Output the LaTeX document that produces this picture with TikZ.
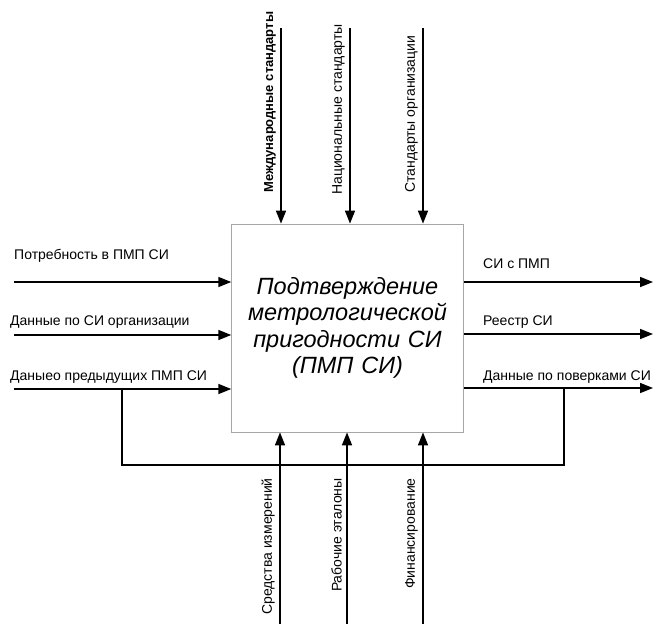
\documentclass[tikz,border=0pt]{standalone}
\usepackage{fontspec}
\setmainfont{Liberation Sans}
\usepackage{tikz}
\usetikzlibrary{shapes.geometric, arrows.meta}

\begin{document}
\begin{tikzpicture}[x=1pt, y=-1pt, font=\fontsize{14}{16}\selectfont]
		\tikzstyle{process} = [rectangle, minimum width=231pt, minimum height=208pt, text width=225pt, align=center, draw=black!35, line width=0.8pt, font=\fontsize{23.5}{26.5}\selectfont\itshape]
		
		\tikzstyle{label} = [inner sep=0pt]
		
		\tikzstyle{vlabel} = [inner sep=0pt, rotate=90]
		
		\tikzstyle{arrow} = [-{Triangle[length=13pt, width=10pt]}, line width=1.6pt]
		
		\tikzstyle{line} = [line width=1.6pt]
		
		\useasboundingbox (0,0) rectangle (653,624);
		
		% Function block
		\node (pmp) [process] at (347.5,328) {Подтверждение\\ метрологической\\ пригодности СИ\\ (ПМП СИ)};
		
		% Controls (top)
		\coordinate (c1) at (281,28);
		\coordinate (c2) at (350,28);
		\coordinate (c3) at (423,28);
		\node (lc1) [vlabel, anchor=south west, font=\fontsize{13}{15}\selectfont\bfseries] at (276,193) {Международные стандарты};
		\node (lc2) [vlabel, anchor=south west] at (345,195) {Национальные стандарты};
		\node (lc3) [vlabel, anchor=south west] at (418,193) {Стандарты организации};
		
		% Inputs (left)
		\coordinate (i1) at (14,282);
		\coordinate (i2) at (14,335);
		\coordinate (i3) at (14,389);
		\node (li1) [label, anchor=base west] at (14,259) {Потребность в ПМП СИ};
		\node (li2) [label, anchor=base west] at (10,325) {Данные по СИ организации};
		\node (li3) [label, anchor=base west] at (10,380) {Даныео предыдущих ПМП СИ};
		
		% Outputs (right)
		\coordinate (o1) at (653,282);
		\coordinate (o2) at (653,334);
		\coordinate (o3) at (653,388);
		\node (lo1) [label, anchor=base west] at (483,268) {СИ с ПМП};
		\node (lo2) [label, anchor=base west] at (483,325) {Реестр СИ};
		\node (lo3) [label, anchor=base west] at (483,380) {Данные по поверками СИ};
		
		% Mechanisms (bottom)
		\coordinate (m1) at (280,624);
		\coordinate (m2) at (347,624);
		\coordinate (m3) at (423,624);
		\node (lm1) [vlabel, anchor=south east] at (275,478) {Средства измерений};
		\node (lm2) [vlabel, anchor=south east] at (342,478) {Рабочие эталоны};
		\node (lm3) [vlabel, anchor=south east] at (418,478) {Финансирование};
		
		% Arrows
		\draw [arrow] (c1) -- (c1 |- pmp.north);
		\draw [arrow] (c2) -- (c2 |- pmp.north);
		\draw [arrow] (c3) -- (c3 |- pmp.north);
		\draw [arrow] (i1) -- (i1 -| pmp.west);
		\draw [arrow] (i2) -- (i2 -| pmp.west);
		\draw [arrow] (i3) -- (i3 -| pmp.west);
		\draw [arrow] (o1 -| pmp.east) -- (o1);
		\draw [arrow] (o2 -| pmp.east) -- (o2);
		\draw [arrow] (o3 -| pmp.east) -- (o3);
		\draw [arrow] (m1) -- (m1 |- pmp.south);
		\draw [arrow] (m2) -- (m2 |- pmp.south);
		\draw [arrow] (m3) -- (m3 |- pmp.south);
		
		% Feedback loop
		\coordinate (fl) at (122,389);
		\coordinate (fr) at (564,388);
		\coordinate (fb) at (0,465);
		\draw [line] (fr) -- (fr |- fb) -- (fl |- fb) -- (fl);
\end{tikzpicture}
\end{document}
